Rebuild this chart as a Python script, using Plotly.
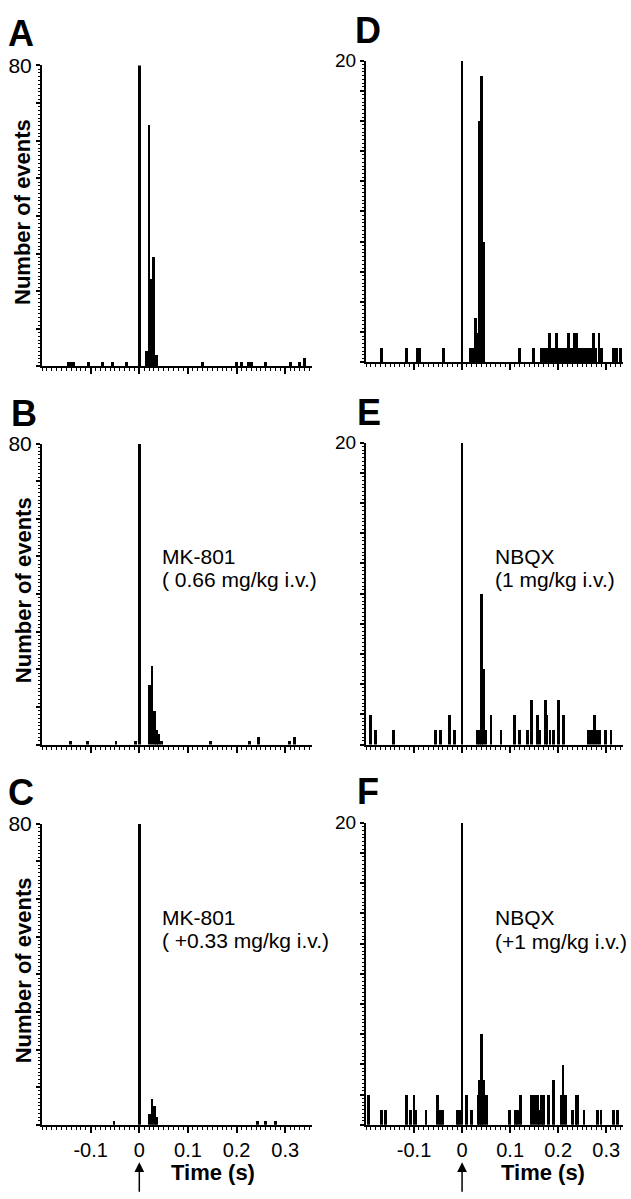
import plotly.graph_objects as go

W, H = 631, 1199

# peri-stimulus histograms: bin centre (s) and number of events per bin
a_t = [-0.145, -0.140, -0.135, -0.105, -0.075, -0.055, -0.027, 0.0, 0.015, 0.020, 0.025,
       0.030, 0.035, 0.130, 0.200, 0.210, 0.225, 0.230, 0.260, 0.310, 0.330, 0.340]
a_n = [1, 1, 1, 1, 1, 1, 1, 80, 4, 64, 23, 29, 3, 1, 1, 1, 1, 1, 1, 1, 1, 2]

b_t = [-0.142, -0.106, -0.048, -0.008, 0.0, 0.021, 0.026, 0.031, 0.036, 0.040, 0.045,
       0.146, 0.226, 0.245, 0.308, 0.319]
b_n = [1, 1, 1, 1, 80, 16, 21, 9, 4, 3, 1, 1, 1, 2, 1, 2]

c_t = [-0.052, 0.0, 0.021, 0.026, 0.031, 0.036, 0.243, 0.259, 0.280]
c_n = [1, 80, 3, 7, 5, 2, 1, 1, 1]

d_t = [-0.168, -0.115, -0.093, -0.088, -0.038, 0.0, 0.017, 0.022, 0.028, 0.032, 0.036,
       0.040, 0.045, 0.119, 0.149, 0.165, 0.170, 0.175, 0.182, 0.187, 0.192, 0.197,
       0.202, 0.207, 0.212, 0.217, 0.222, 0.227, 0.234, 0.238, 0.243, 0.248, 0.253,
       0.258, 0.263, 0.268, 0.273, 0.278, 0.285, 0.290, 0.315, 0.322, 0.329]
d_n = [1, 1, 1, 1, 1, 20, 1, 1, 3, 2, 16, 19, 8, 1, 1, 1, 1, 1, 2, 1, 1, 2, 1, 1, 1, 1,
       2, 1, 2, 2, 1, 1, 1, 1, 1, 1, 2, 1, 2, 1, 1, 1, 1]

e_t = [-0.190, -0.180, -0.142, -0.056, -0.045, -0.027, -0.015, 0.0, 0.032, 0.036, 0.040,
       0.045, 0.050, 0.060, 0.081, 0.109, 0.120, 0.137, 0.145, 0.157, 0.162, 0.173,
       0.177, 0.183, 0.190, 0.200, 0.211, 0.263, 0.270, 0.276, 0.281, 0.286, 0.298, 0.310]
e_n = [2, 1, 1, 1, 1, 2, 1, 20, 1, 1, 10, 5, 1, 2, 1, 2, 1, 1, 3, 2, 1, 3, 2, 1, 1, 3, 2,
       1, 1, 2, 1, 1, 1, 1]

f_t = [-0.195, -0.167, -0.160, -0.115, -0.108, -0.100, -0.096, -0.075, -0.051, -0.045,
       -0.040, -0.010, -0.005, 0.0, 0.010, 0.019, 0.033, 0.037, 0.041, 0.045, 0.051,
       0.098, 0.111, 0.115, 0.122, 0.145, 0.150, 0.157, 0.160, 0.165, 0.170, 0.180,
       0.190, 0.206, 0.210, 0.215, 0.230, 0.237, 0.241, 0.254, 0.282, 0.289, 0.315, 0.324]
f_n = [2, 1, 1, 2, 1, 2, 1, 1, 2, 1, 1, 1, 1, 20, 2, 1, 2, 3, 6, 3, 2, 1, 1, 1, 2, 2, 2,
       2, 1, 2, 2, 2, 3, 2, 4, 2, 1, 2, 2, 1, 1, 1, 1, 1]

time_ticks = [-0.1, 0, 0.1, 0.2, 0.3]
time_labels = ["-0.1", "0", "0.1", "0.2", "0.3"]

labels_a_c = ["MK-801", "( 0.66 mg/kg i.v.)", "MK-801", "( +0.33 mg/kg i.v.)"]
labels_d_f = ["NBQX", "(1 mg/kg i.v.)", "NBQX", "(+1 mg/kg i.v.)"]

FONT = "Liberation Sans, Arial, sans-serif"


def px(x):
    return x / W


def py(y):
    return 1 - y / H


# letter, times, counts, ymax, major step, minor step, x range, x pixels, y pixels (top, bottom)
panels = [
    ("A", a_t, a_n, 80, 10, 1, [-0.2, 0.355], (42, 312), (54, 358)),
    ("B", b_t, b_n, 80, 10, 1, [-0.2, 0.355], (42, 312), (436, 740)),
    ("C", c_t, c_n, 80, 10, 1, [-0.2, 0.355], (42, 312), (820, 1124)),
    ("D", d_t, d_n, 20, 2, 0.25, [-0.2, 0.335], (366, 623), (49, 354)),
    ("E", e_t, e_n, 20, 2, 0.25, [-0.2, 0.335], (366, 623), (435, 740)),
    ("F", f_t, f_n, 20, 2, 0.25, [-0.2, 0.335], (366, 623), (819, 1124)),
]
letter_pos = {"A": (21, 22), "B": (24, 406), "C": (21, 788),
              "D": (368, 19), "E": (369, 405), "F": (368, 787)}

fig = go.Figure()
layout = {}
annotations = []

for i, (letter, t, n, ymax, step, mstep, xr, xpx, ypx) in enumerate(panels, start=1):
    sfx = "" if i == 1 else str(i)
    fig.add_trace(go.Bar(x=t, y=n, width=0.0058,
                         marker=dict(color="black", line=dict(width=0)),
                         xaxis="x" + sfx, yaxis="y" + sfx, showlegend=False))
    bottom = letter in ("C", "F")
    layout["xaxis" + sfx] = dict(
        domain=[px(xpx[0]), px(xpx[1])], range=xr, anchor="y" + sfx,
        showline=True, linecolor="black", linewidth=2, showgrid=False, zeroline=False,
        ticks="outside", ticklen=6, tickwidth=2, tickcolor="black",
        tickmode="array", tickvals=time_ticks, ticktext=time_labels,
        showticklabels=bottom, tickfont=dict(size=20, color="black", family=FONT),
        minor=dict(ticks="outside", ticklen=3, tickwidth=1, tickcolor="black",
                   tickmode="linear", tick0=0, dtick=0.01),
    )
    yvals = list(range(0, ymax + 1, step))
    layout["yaxis" + sfx] = dict(
        domain=[py(ypx[1]), py(ypx[0])], range=[0, ymax], anchor="x" + sfx,
        showline=True, linecolor="black", linewidth=2, showgrid=False, zeroline=False,
        ticks="outside", ticklen=4, tickwidth=1.5, tickcolor="black",
        tickmode="array", tickvals=yvals,
        ticktext=["" for v in yvals[:-1]] + [str(ymax)],
        tickfont=dict(size=21 if ymax == 80 else 19, color="black", family=FONT),
        minor=dict(ticks="outside", ticklen=2, tickwidth=1, tickcolor="black",
                   tickmode="linear", tick0=0, dtick=mstep),
    )

    # panel letter
    lx, ly = letter_pos[letter]
    annotations.append(dict(text="<b>%s</b>" % letter, x=px(lx), y=py(ly),
                            xref="paper", yref="paper", showarrow=False,
                            xanchor="center", yanchor="middle",
                            font=dict(size=36, color="black", family=FONT)))
    if xpx[0] < 100:
        annotations.append(dict(text="<b>Number of events</b>", textangle=-90,
                                x=px(23), y=py((ypx[0] + ypx[1]) / 2 - 4),
                                xref="paper", yref="paper", showarrow=False,
                                xanchor="center", yanchor="middle",
                                font=dict(size=22, color="black", family=FONT)))

# drug annotations
drug_text = [
    (labels_a_c[0], 160, 550), (labels_a_c[1], 160, 573),
    (labels_a_c[2], 160, 915), (labels_a_c[3], 160, 938),
    (labels_d_f[0], 493, 550), (labels_d_f[1], 493, 573),
    (labels_d_f[2], 493, 915), (labels_d_f[3], 493, 939),
]
for txt, x, y in drug_text:
    annotations.append(dict(text=txt, x=px(x), y=py(y), xref="paper", yref="paper",
                            showarrow=False, xanchor="left", yanchor="middle",
                            font=dict(size=21, color="black", family=FONT)))

# x-axis titles and stimulus arrows
for xa, cx in (("x3", 213), ("x6", 543)):
    annotations.append(dict(text="<b>Time (s)</b>", x=px(cx), y=py(1172),
                            xref="paper", yref="paper", showarrow=False,
                            xanchor="center", yanchor="middle",
                            font=dict(size=22, color="black", family=FONT)))
    annotations.append(dict(text="", x=0, xref=xa, y=py(1162), yref="paper",
                            showarrow=True, ax=0, ay=31, arrowhead=2, arrowsize=1.3,
                            arrowwidth=1.5, arrowcolor="black"))

fig.update_layout(
    width=W, height=H, margin=dict(l=0, r=0, t=0, b=0),
    plot_bgcolor="white", paper_bgcolor="white", bargap=0,
    font=dict(family=FONT, color="black"),
    annotations=annotations, **layout,
)

fig.write_html("out.html", config={"displayModeBar": False},
               post_script="document.body.style.margin='0px';")
